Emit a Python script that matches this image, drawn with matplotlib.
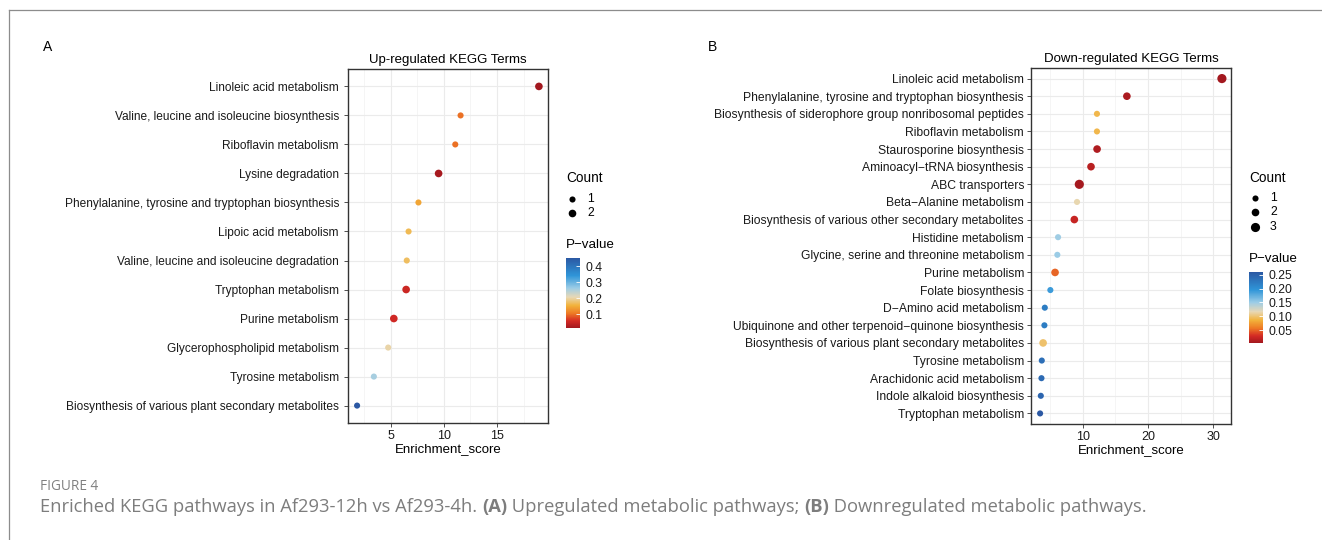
import numpy as np
import matplotlib
matplotlib.use("Agg")
import matplotlib.pyplot as plt
from matplotlib.colors import LinearSegmentedColormap, Normalize
from matplotlib.lines import Line2D
from matplotlib.colorbar import ColorbarBase

plt.rcParams['font.family'] = ['Liberation Sans', 'DejaVu Sans']

# ---- data: up-regulated (panel A) ----
up_terms = ["Linoleic acid metabolism",
            "Valine, leucine and isoleucine biosynthesis",
            "Riboflavin metabolism",
            "Lysine degradation",
            "Phenylalanine, tyrosine and tryptophan biosynthesis",
            "Lipoic acid metabolism",
            "Valine, leucine and isoleucine degradation",
            "Tryptophan metabolism",
            "Purine metabolism",
            "Glycerophospholipid metabolism",
            "Tyrosine metabolism",
            "Biosynthesis of various plant secondary metabolites"]
up_score = [18.95, 11.57, 11.07, 9.5, 7.6, 6.67, 6.5, 6.44, 5.28, 4.75, 3.4, 1.82]
up_count = [2, 1, 1, 2, 1, 1, 1, 2, 2, 1, 1, 1]
up_pval = [0.013, 0.10, 0.10, 0.018, 0.143, 0.165, 0.17, 0.05, 0.054, 0.2,
           0.255, 0.451]
up_pval_ticks = [0.1, 0.2, 0.3, 0.4]

# ---- data: down-regulated (panel B) ----
down_terms = ["Linoleic acid metabolism",
              "Phenylalanine, tyrosine and tryptophan biosynthesis",
              "Biosynthesis of siderophore group nonribosomal peptides",
              "Riboflavin metabolism",
              "Staurosporine biosynthesis",
              "Aminoacyl\u2212tRNA biosynthesis",
              "ABC transporters",
              "Beta\u2212Alanine metabolism",
              "Biosynthesis of various other secondary metabolites",
              "Histidine metabolism",
              "Glycine, serine and threonine metabolism",
              "Purine metabolism",
              "Folate biosynthesis",
              "D\u2212Amino acid metabolism",
              "Ubiquinone and other terpenoid\u2212quinone biosynthesis",
              "Biosynthesis of various plant secondary metabolites",
              "Tyrosine metabolism",
              "Arachidonic acid metabolism",
              "Indole alkaloid biosynthesis",
              "Tryptophan metabolism"]
down_score = [31.3, 16.76, 12.18, 12.18, 12.2, 11.27, 9.48, 9.13, 8.72, 6.23,
              6.12, 5.77, 5.05, 4.2, 4.14, 3.94, 3.74, 3.69, 3.59, 3.48]
down_count = [3, 2, 1, 1, 2, 2, 3, 1, 2, 1, 1, 2, 1, 1, 1, 2, 1, 1, 1, 1]
down_pval = [0.003, 0.008, 0.09, 0.09, 0.01, 0.015, 0.005, 0.115, 0.022, 0.148,
             0.15, 0.05, 0.19, 0.22, 0.22, 0.098, 0.235, 0.24, 0.245, 0.26]
down_pval_ticks = [0.05, 0.10, 0.15, 0.20, 0.25]

cmap = LinearSegmentedColormap.from_list(
    "pv", [(0.0, '#A3181F'), (0.1, '#D42A24'), (0.21, '#EE7B25'),
           (0.32, '#F2B23A'), (0.44, '#E8D8B5'), (0.57, '#9DCDE6'),
           (0.75, '#2F95D8'), (1.0, '#2B58A3')])

# marker diameter (pt) per count
size_pt = {1: 4.4, 2: 5.5, 3: 6.6}

W, H = 1322, 540
fig = plt.figure(figsize=(W / 100, H / 100), dpi=100)


def fx(px):
    return px / W


def fy(py):
    return 1 - py / H


def panel(rect, terms, score, count, pval, title, xticks, minor, fs, ypad):
    ax = fig.add_axes(rect)
    n = len(terms)
    ypos = np.arange(n)[::-1]
    norm = Normalize(min(pval), max(pval))
    ax.scatter(score, ypos, s=[size_pt[c] ** 2 for c in count],
               c=pval, cmap=cmap, norm=norm, zorder=3, linewidths=0)
    lo, hi = min(score), max(score)
    pad = 0.05 * (hi - lo)
    ax.set_xlim(lo - pad, hi + pad)
    ax.set_ylim(-0.6, n - 0.4)
    ax.set_yticks(ypos)
    ax.set_yticklabels(terms, fontsize=fs, color='#1a1a1a')
    ax.set_xticks(xticks)
    ax.set_xticklabels([str(t) for t in xticks], fontsize=9, color='#1a1a1a')
    ax.set_xticks(minor, minor=True)
    ax.tick_params(which='minor', length=0)
    ax.tick_params(which='major', length=3, width=0.6, color='#333333', pad=2)
    ax.tick_params(axis='y', pad=ypad)
    ax.grid(True, which='major', color='#EBEBEB', lw=0.8, zorder=0)
    ax.grid(True, which='minor', axis='x', color='#F2F2F2', lw=0.5, zorder=0)
    ax.set_axisbelow(True)
    for sp in ax.spines.values():
        sp.set_color('#333333')
        sp.set_linewidth(1.0)
    ax.set_title(title, fontsize=9.5, pad=4)
    ax.set_xlabel("Enrichment_score", fontsize=9.5, labelpad=1)
    return norm


normA = panel([fx(348), fy(423), fx(200), 354 / H], up_terms, up_score, up_count,
              up_pval, "Up-regulated KEGG Terms", [5, 10, 15],
              [2.5, 7.5, 12.5, 17.5], 8.6, 3.5)
normB = panel([fx(1031), fy(424), fx(200), 356 / H], down_terms, down_score,
              down_count, down_pval, "Down-regulated KEGG Terms", [10, 20, 30],
              [5, 15, 25], 8.7, 2)


def legend(x0, counts, count_y, pv_title_y, cb_top, cb_bottom, norm, ticks, fmt):
    fig.text(fx(x0), fy(178), "Count", fontsize=9.8, va='center')
    for c, yy in zip(counts, count_y):
        fig.add_artist(Line2D([fx(x0 + 6)], [fy(yy)], marker='o', color='black',
                              markersize=size_pt[c], markeredgewidth=0,
                              transform=fig.transFigure))
        fig.text(fx(x0 + 21), fy(yy), str(c), fontsize=8.8, va='center')
    fig.text(fx(x0), fy(pv_title_y), "P\u2212value", fontsize=9.6, va='center')
    cax = fig.add_axes([fx(x0), fy(cb_bottom), fx(14), (cb_bottom - cb_top) / H])
    cb = ColorbarBase(cax, cmap=cmap, norm=norm, orientation='vertical')
    cb.outline.set_visible(False)
    cb.set_ticks(ticks)
    cb.set_ticklabels([fmt.format(t) for t in ticks])
    cax.tick_params(length=3, width=0.6, color='white', direction='in',
                    labelsize=8.8, pad=4, labelcolor='#1a1a1a')


legend(566, [1, 2], [199, 213], 245, 258, 328, normA, up_pval_ticks, "{:.1f}")
legend(1249, [1, 2, 3], [198, 212, 227], 259, 272, 343, normB, down_pval_ticks,
       "{:.2f}")

# panel letters
fig.text(fx(48), fy(47), "A", fontsize=10, va='center', ha='center')
fig.text(fx(712), fy(47), "B", fontsize=10, va='center', ha='center')

# frame lines
fig.add_artist(Line2D([fx(9), 1], [fy(10), fy(10)], color='#8c8c8c', lw=0.9,
                      transform=fig.transFigure))
fig.add_artist(Line2D([fx(9), fx(9)], [fy(10), 0], color='#8c8c8c', lw=0.9,
                      transform=fig.transFigure))

# caption
cap_font = ['Open Sans', 'DejaVu Sans']
fig.text(fx(40), fy(487), "FIGURE 4", fontsize=9.8, color='#808080',
         family=cap_font, va='center')
pieces = [("Enriched KEGG pathways in Af293-12h vs Af293-4h. ", 'normal'),
          ("(A)", 'bold'),
          (" Upregulated metabolic pathways; ", 'normal'),
          ("(B)", 'bold'),
          (" Downregulated metabolic pathways.", 'normal')]
renderer = fig.canvas.get_renderer()
x = fx(40)
for txt, wt in pieces:
    t = fig.text(x, fy(507), txt, fontsize=13.2, color='#7d7d7d',
                 family=cap_font, weight=wt, va='center')
    bb = t.get_window_extent(renderer)
    x += bb.width / W

fig.savefig("out.png", dpi=100)
